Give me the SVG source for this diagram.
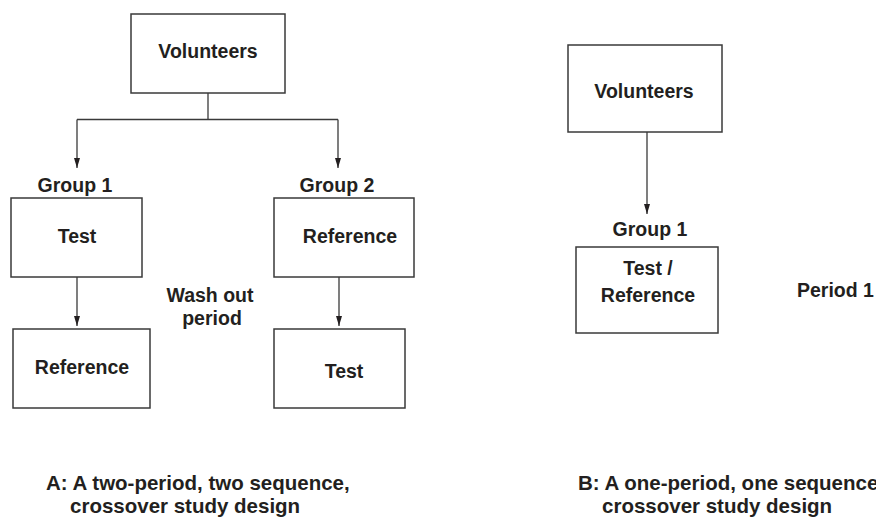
<svg xmlns="http://www.w3.org/2000/svg" width="876" height="518" viewBox="0 0 876 518">
<defs>
<style>
.box{fill:#fff;stroke:#3a3a3a;stroke-width:1.5}
.t{font-family:"Liberation Sans",Arial,sans-serif;font-weight:bold;font-size:19.5px;fill:#231f20}
.c{text-anchor:middle}
.cap{font-size:20.5px}
.ln{fill:none;stroke:#3a3a3a;stroke-width:1.3}
</style>
<marker id="ah" viewBox="0 0 10 6" refX="10" refY="3" markerWidth="10" markerHeight="6" markerUnits="userSpaceOnUse" orient="auto">
<path d="M0,0 L10,3 L0,6 Z" fill="#231f20"/>
</marker>
</defs>
<rect width="876" height="518" fill="#fff"/>
<g id="connectors">
<path class="ln" d="M208,93 V119.5"/>
<path class="ln" d="M77,119.5 H338"/>
<path class="ln" d="M77,119.5 V168" marker-end="url(#ah)"/>
<path class="ln" d="M338,119.5 V168" marker-end="url(#ah)"/>
<path class="ln" d="M77,277 V326" marker-end="url(#ah)"/>
<path class="ln" d="M339,277 V326" marker-end="url(#ah)"/>
<path class="ln" d="M647,132 V214" marker-end="url(#ah)"/>
</g>
<g id="volunteers-a">
<rect class="box" x="131" y="14" width="154" height="79"/>
<text class="t c" x="208" y="58">Volunteers</text>
</g>
<g id="group1-label-a"><text class="t c" x="75" y="192">Group 1</text></g>
<g id="group2-label-a"><text class="t c" x="337" y="192">Group 2</text></g>
<g id="test-a1">
<rect class="box" x="11" y="198" width="131" height="79"/>
<text class="t c" x="77" y="243">Test</text>
</g>
<g id="reference-a2">
<rect class="box" x="274" y="198" width="140" height="79"/>
<text class="t c" x="350" y="243">Reference</text>
</g>
<g id="reference-a1">
<rect class="box" x="13" y="329" width="137" height="79"/>
<text class="t c" x="82" y="374">Reference</text>
</g>
<g id="test-a2">
<rect class="box" x="274" y="329" width="131" height="79"/>
<text class="t c" x="344" y="378">Test</text>
</g>
<g id="washout">
<text class="t c" x="210" y="302">Wash out</text>
<text class="t c" x="212" y="325">period</text>
</g>
<g id="volunteers-b">
<rect class="box" x="568" y="45" width="154" height="87"/>
<text class="t c" x="644" y="98">Volunteers</text>
</g>
<g id="group1-label-b"><text class="t c" x="650" y="236">Group 1</text></g>
<g id="testref-b">
<rect class="box" x="576" y="247" width="142" height="86"/>
<text class="t c" x="648" y="275">Test /</text>
<text class="t c" x="648" y="302">Reference</text>
</g>
<g id="period1"><text class="t" x="797" y="297">Period 1</text></g>
<g id="caption-a">
<text class="t cap" x="46" y="490">A: A two-period, two sequence,</text>
<text class="t cap" x="70" y="513">crossover study design</text>
</g>
<g id="caption-b">
<text class="t cap" x="578" y="490">B: A one-period, one sequence,</text>
<text class="t cap" x="602" y="513">crossover study design</text>
</g>
</svg>
